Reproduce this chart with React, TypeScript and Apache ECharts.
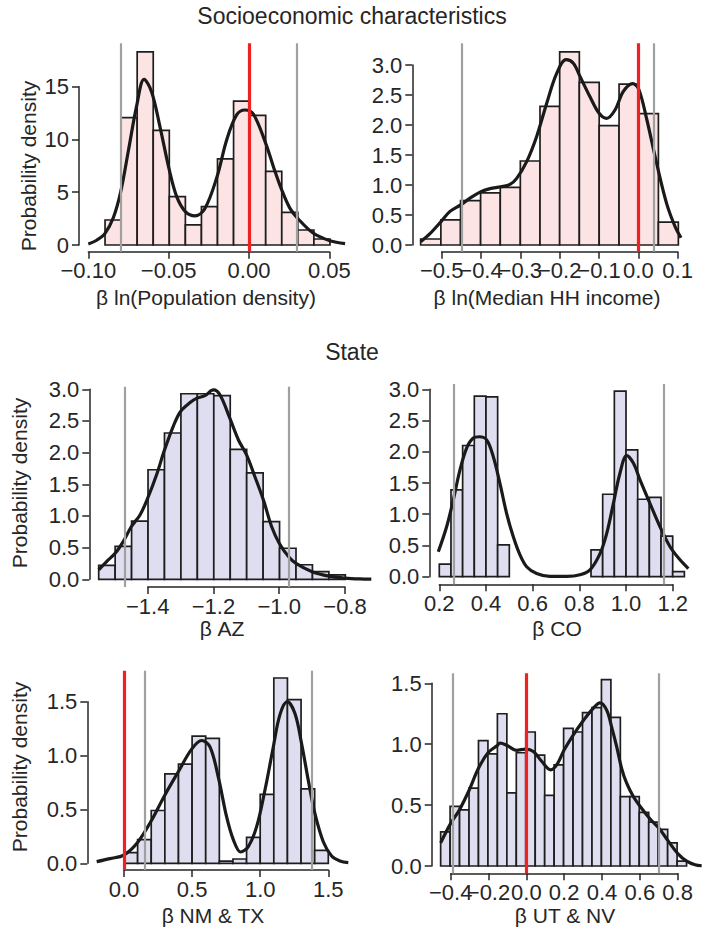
import React, { useEffect, useRef } from "react";
import * as echarts from "echarts";

// ---------------- data ----------------
// Panel 1: β ln(Population density)
const p1Edges = [-0.0896, -0.0796, -0.0696, -0.0596, -0.0496, -0.0396, -0.0296, -0.0196, -0.0096, 0.0004, 0.0104, 0.0204, 0.0304, 0.0404, 0.0504];
const p1Heights = [2.37, 12.06, 18.3, 10.86, 4.58, 1.9, 3.63, 8.15, 13.64, 12.28, 6.98, 3.09, 1.42, 0.57];
const p1KdeX = [-0.1, -0.0948, -0.0896, -0.0844, -0.0799, -0.0751, -0.0699, -0.0653, -0.0606, -0.0554, -0.0496, -0.045, -0.0396, -0.0336, -0.0274, -0.0199, -0.0139, -0.0077, -0.0025, 0.0027, 0.0104, 0.0152, 0.0204, 0.0255, 0.0303, 0.0401, 0.0504, 0.0598];
const p1KdeY = [0.1, 0.45, 1.1, 2.6, 5.0, 8.9, 13.2, 15.7, 14.5, 11.2, 7.11, 4.58, 3.16, 2.75, 3.47, 6.47, 9.95, 12.32, 12.79, 12.41, 9.63, 7.42, 5.21, 3.47, 2.53, 1.11, 0.41, 0.13];
const p1Gray = [-0.08, 0.0272];
const p1Red = [0];
const p1XTicks = [-0.1, -0.05, 0.0, 0.05];
const p1YTicks = [0, 5, 10, 15];

// Panel 2: β ln(Median HH income)
const p2Edges = [-0.5534, -0.502, -0.452, -0.401, -0.351, -0.3, -0.25, -0.2, -0.15, -0.0995, -0.049, 0.001, 0.051, 0.1017];
const p2Heights = [0.1, 0.42, 0.74, 0.87, 0.96, 1.4, 2.31, 3.22, 2.71, 1.99, 2.68, 2.19, 0.38];
const p2KdeX = [-0.5534, -0.5297, -0.5017, -0.4788, -0.4517, -0.428, -0.4, -0.3771, -0.35, -0.3263, -0.3093, -0.2839, -0.2585, -0.2331, -0.2076, -0.1839, -0.1653, -0.1483, -0.1229, -0.0992, -0.0805, -0.0593, -0.0381, -0.0144, 0.0008, 0.0212, 0.0466, 0.072, 0.0932, 0.1085];
const p2KdeY = [0.056, 0.19, 0.39, 0.56, 0.67, 0.78, 0.89, 0.94, 0.97, 1.01, 1.11, 1.39, 1.81, 2.36, 2.86, 3.09, 3.03, 2.81, 2.47, 2.19, 2.11, 2.25, 2.56, 2.69, 2.6, 2.1, 1.36, 0.69, 0.31, 0.12];
const p2Gray = [-0.4517, 0.0424];
const p2Red = [0];
const p2XTicks = [-0.5, -0.4, -0.3, -0.2, -0.1, 0.0, 0.1];
const p2YTicks = [0, 0.5, 1.0, 1.5, 2.0, 2.5, 3.0];

// Panel 3: β AZ
const p3Edges = [-1.549, -1.499, -1.449, -1.399, -1.349, -1.299, -1.249, -1.199, -1.149, -1.099, -1.049, -0.999, -0.949, -0.899, -0.849, -0.799];
const p3Heights = [0.22, 0.52, 0.92, 1.73, 2.31, 2.93, 2.93, 2.9, 2.05, 1.68, 0.91, 0.49, 0.23, 0.12, 0.07];
const p3KdeX = [-1.549, -1.525, -1.499, -1.474, -1.45, -1.423, -1.4, -1.373, -1.349, -1.322, -1.3, -1.271, -1.25, -1.226, -1.2, -1.18, -1.15, -1.124, -1.099, -1.074, -1.048, -1.023, -1.0, -0.972, -0.949, -0.9, -0.849, -0.8, -0.755, -0.72];
const p3KdeY = [0.15, 0.28, 0.41, 0.6, 0.83, 1.02, 1.28, 1.65, 2.04, 2.42, 2.65, 2.79, 2.86, 2.9, 2.99, 2.91, 2.54, 2.2, 1.96, 1.62, 1.25, 0.83, 0.57, 0.36, 0.25, 0.12, 0.05, 0.02, 0.006, 0.002];
const p3Gray = [-1.467, -0.966];
const p3Red: number[] = [];
const p3XTicks = [-1.4, -1.2, -1.0, -0.8];
const p3YTicks = [0, 0.5, 1.0, 1.5, 2.0, 2.5, 3.0];

// Panel 4: β CO
const p4Edges = [0.2, 0.25, 0.3, 0.35, 0.4, 0.45, 0.5, 0.55, 0.6, 0.65, 0.7, 0.75, 0.8, 0.85, 0.9, 0.95, 1.0, 1.05, 1.1, 1.15, 1.2, 1.25];
const p4Heights = [0.2, 1.39, 2.1, 2.89, 2.88, 0.51, 0, 0, 0, 0, 0, 0, 0, 0.43, 1.32, 2.97, 2.03, 1.24, 1.27, 0.65, 0.08];
const p4KdeX = [0.1957, 0.2314, 0.26, 0.2886, 0.3171, 0.3457, 0.3714, 0.4029, 0.4314, 0.46, 0.4886, 0.5171, 0.5457, 0.5743, 0.6171, 0.6743, 0.7457, 0.8029, 0.8457, 0.8886, 0.9171, 0.9457, 0.9743, 1.0029, 1.0314, 1.06, 1.1029, 1.1457, 1.1886, 1.2314, 1.2671];
const p4KdeY = [0.4, 0.8, 1.23, 1.71, 2.06, 2.22, 2.24, 2.19, 1.92, 1.49, 1.01, 0.64, 0.35, 0.16, 0.05, 0.004, 0.004, 0.03, 0.11, 0.37, 0.69, 1.17, 1.66, 1.94, 1.82, 1.55, 1.17, 0.8, 0.48, 0.27, 0.13];
const p4Gray = [0.264, 1.16];
const p4Red: number[] = [];
const p4XTicks = [0.2, 0.4, 0.6, 0.8, 1.0, 1.2];
const p4YTicks = [0, 0.5, 1.0, 1.5, 2.0, 2.5, 3.0];

// Panel 5: β NM & TX
const p5Edges = [0.0, 0.1, 0.2, 0.3, 0.4, 0.5, 0.6, 0.7, 0.8, 0.9, 1.0, 1.1, 1.2, 1.3, 1.4, 1.5];
const p5Heights = [0.1, 0.22, 0.49, 0.83, 0.92, 1.18, 1.16, 0.02, 0.04, 0.24, 0.64, 1.72, 1.52, 0.69, 0.12];
const p5KdeX = [-0.2006, -0.1028, 0.0, 0.0979, 0.1982, 0.2985, 0.3988, 0.4967, 0.5701, 0.6313, 0.6924, 0.7536, 0.8025, 0.8564, 0.9126, 0.9738, 1.035, 1.0962, 1.1451, 1.1989, 1.2552, 1.3041, 1.3531, 1.402, 1.4632, 1.5244, 1.5855, 1.6467];
const p5KdeY = [0.015, 0.043, 0.077, 0.19, 0.39, 0.63, 0.85, 1.06, 1.14, 1.08, 0.8, 0.43, 0.22, 0.105, 0.155, 0.34, 0.68, 1.08, 1.38, 1.5, 1.39, 1.11, 0.77, 0.46, 0.2, 0.068, 0.022, 0.006];
const p5Gray = [0.154, 1.382];
const p5Red = [0];
const p5XTicks = [0.0, 0.5, 1.0, 1.5];
const p5YTicks = [0, 0.5, 1.0, 1.5];

// Panel 6: β UT & NV
const p6Edges = [-0.453, -0.403, -0.353, -0.303, -0.253, -0.203, -0.153, -0.103, -0.053, -0.003, 0.047, 0.097, 0.147, 0.197, 0.247, 0.297, 0.347, 0.397, 0.447, 0.497, 0.547, 0.597, 0.647, 0.697, 0.747, 0.797, 0.847];
const p6Heights = [0.28, 0.49, 0.46, 0.64, 1.03, 0.92, 1.25, 0.6, 0.93, 1.1, 0.91, 0.58, 0.83, 1.13, 1.1, 1.26, 1.3, 1.53, 1.22, 0.57, 0.57, 0.44, 0.36, 0.3, 0.19, 0.04];
const p6KdeX = [-0.4529, -0.4035, -0.3542, -0.3031, -0.2537, -0.2026, -0.1533, -0.1392, -0.1022, -0.0529, -0.0018, 0.037, 0.0811, 0.1286, 0.1604, 0.1991, 0.2502, 0.2996, 0.3507, 0.3894, 0.4247, 0.4511, 0.4775, 0.504, 0.5304, 0.5656, 0.6009, 0.652, 0.7013, 0.7524, 0.8018, 0.8476, 0.8916, 0.9269];
const p6KdeY = [0.19, 0.34, 0.46, 0.62, 0.8, 0.93, 0.99, 1.01, 0.99, 0.95, 0.96, 0.94, 0.86, 0.79, 0.83, 0.95, 1.08, 1.19, 1.29, 1.34, 1.28, 1.14, 0.98, 0.8, 0.68, 0.57, 0.49, 0.39, 0.31, 0.2, 0.1, 0.04, 0.01, 0.002];
const p6Gray = [-0.386, 0.701];
const p6Red = [0];
const p6XTicks = [-0.4, -0.2, 0.0, 0.2, 0.4, 0.6, 0.8];
const p6YTicks = [0, 0.5, 1.0, 1.5];

const xLabels = ["β ln(Population density)", "β ln(Median HH income)", "β AZ", "β CO", "β NM & TX", "β UT & NV"];
const yLabel = "Probability density";
const titles = ["Socioeconomic characteristics", "State"];

// ---------------- layout & style ----------------
const FONT = '"Liberation Sans", Arial, Helvetica, sans-serif';
const TXT = "#262626";
const PINK = "#fce4e4";
const LAV = "#dedef0";

type Box = { left: number; right: number; top: number; bottom: number; xa: [number, number]; xb: [number, number]; y0: number; yr: [number, number] };

const boxes: Box[] = [
  { left: 79, right: 354, top: 43.3, bottom: 251.7, xa: [-0.1, 88.33], xb: [0.05, 329.33], y0: 245, yr: [15, 86.67] },
  { left: 412.3, right: 690, top: 43.3, bottom: 251.7, xa: [-0.5, 441.67], xb: [0.1, 677.67], y0: 245, yr: [3, 65] },
  { left: 89.3, right: 372, top: 386.7, bottom: 587, xa: [-1.4, 147.7], xb: [-0.8, 345], y0: 579.3, yr: [3, 389.3] },
  { left: 429.3, right: 695, top: 384, bottom: 584.3, xa: [0.2, 439.3], xb: [1.2, 672.7], y0: 576.7, yr: [3, 389.3] },
  { left: 87.3, right: 360, top: 670.7, bottom: 870, xa: [0, 124], xb: [1.5, 328.3], y0: 863.3, yr: [1.5, 701.7] },
  { left: 431.7, right: 703, top: 673.3, bottom: 873.3, xa: [-0.4, 450.67], xb: [0.8, 677.67], y0: 866, yr: [1.5, 683.3] },
];

const xLabelPos: [number, number][] = [[206, 297], [547, 297], [222, 628], [557, 628], [213, 915], [565, 915]];
const yLabelPos: [number, number][] = [[28, 166], [19, 483], [19, 767]];
const titlePos: [number, number][] = [[352, 16], [352, 352]];

const panels = [
  { edges: p1Edges, heights: p1Heights, kx: p1KdeX, ky: p1KdeY, gray: p1Gray, red: p1Red, xt: p1XTicks, yt: p1YTicks, xd: 2, yd: 0, fill: PINK },
  { edges: p2Edges, heights: p2Heights, kx: p2KdeX, ky: p2KdeY, gray: p2Gray, red: p2Red, xt: p2XTicks, yt: p2YTicks, xd: 1, yd: 1, fill: PINK },
  { edges: p3Edges, heights: p3Heights, kx: p3KdeX, ky: p3KdeY, gray: p3Gray, red: p3Red, xt: p3XTicks, yt: p3YTicks, xd: 1, yd: 1, fill: LAV },
  { edges: p4Edges, heights: p4Heights, kx: p4KdeX, ky: p4KdeY, gray: p4Gray, red: p4Red, xt: p4XTicks, yt: p4YTicks, xd: 1, yd: 1, fill: LAV },
  { edges: p5Edges, heights: p5Heights, kx: p5KdeX, ky: p5KdeY, gray: p5Gray, red: p5Red, xt: p5XTicks, yt: p5YTicks, xd: 1, yd: 1, fill: LAV },
  { edges: p6Edges, heights: p6Heights, kx: p6KdeX, ky: p6KdeY, gray: p6Gray, red: p6Red, xt: p6XTicks, yt: p6YTicks, xd: 1, yd: 1, fill: LAV },
];

const TICK_FS = 22;
const LABEL_FS = 21;
const TITLE_FS = 23;

function fmt(v: number, d: number) {
  const s = Math.abs(v) < 1e-9 ? (0).toFixed(d) : v.toFixed(d);
  return s.replace("-", "\u2212");
}

function buildOption() {
  const grids: any[] = [];
  const xAxes: any[] = [];
  const yAxes: any[] = [];
  const series: any[] = [];
  const axisLine = { show: true, onZero: false, lineStyle: { color: TXT, width: 1.5 } };
  const axisTick = (vals: number[]) => ({ show: true, inside: false, length: 7, lineStyle: { color: TXT, width: 1.5 }, customValues: vals });
  const labelStyle = { fontSize: TICK_FS, fontFamily: FONT, color: TXT, showMinLabel: true, showMaxLabel: true, hideOverlap: false };

  panels.forEach((p, i) => {
    const b = boxes[i];
    const kx = (b.xb[1] - b.xa[1]) / (b.xb[0] - b.xa[0]);
    const xmin = b.xa[0] - (b.xa[1] - b.left) / kx;
    const xmax = b.xa[0] + (b.right - b.xa[1]) / kx;
    const ky = (b.y0 - b.yr[1]) / b.yr[0];
    const ymin = -(b.bottom - b.y0) / ky;
    const ymax = (b.y0 - b.top) / ky;
    const px = (v: number) => b.xa[1] + (v - b.xa[0]) * kx;
    const py = (v: number) => b.y0 - v * ky;

    // main plotting grid
    const g = grids.length;
    const xi = xAxes.length;
    const yi = yAxes.length;
    grids.push({ left: b.left, top: b.top, width: b.right - b.left, height: b.bottom - b.top, containLabel: false, outerBoundsMode: "none" });
    xAxes.push({ type: "value", gridIndex: g, min: xmin, max: xmax, show: false, splitLine: { show: false } });
    yAxes.push({ type: "value", gridIndex: g, min: ymin, max: ymax, show: false, splitLine: { show: false } });

    // trimmed x spine (labels split over two overlaid axes so none is dropped)
    const xf = p.xt[0];
    const xl = p.xt[p.xt.length - 1];
    const even = p.xt.filter((_v, k) => k % 2 === 0);
    const odd = p.xt.filter((_v, k) => k % 2 === 1);
    grids.push({ left: px(xf), top: b.bottom - 10, width: px(xl) - px(xf), height: 10, containLabel: false, outerBoundsMode: "none" });
    xAxes.push({
      type: "value", gridIndex: g + 1, min: xf, max: xl, position: "bottom",
      axisLine, axisTick: axisTick(p.xt), splitLine: { show: false },
      axisLabel: { ...labelStyle, customValues: even, margin: 8, formatter: (v: number) => fmt(v, p.xd) },
    });
    xAxes.push({
      type: "value", gridIndex: g + 1, min: xf, max: xl, position: "bottom",
      axisLine: { show: false, onZero: false }, axisTick: { show: false }, splitLine: { show: false },
      axisLabel: { ...labelStyle, customValues: odd, margin: 8, formatter: (v: number) => fmt(v, p.xd) },
    });
    yAxes.push({ type: "value", gridIndex: g + 1, min: 0, max: 1, show: false, splitLine: { show: false } });

    // trimmed y spine
    const yl = p.yt[p.yt.length - 1];
    grids.push({ left: b.left, top: py(yl), width: 10, height: py(0) - py(yl), containLabel: false, outerBoundsMode: "none" });
    xAxes.push({ type: "value", gridIndex: g + 2, min: 0, max: 1, show: false, splitLine: { show: false } });
    yAxes.push({
      type: "value", gridIndex: g + 2, min: 0, max: yl, position: "left",
      axisLine, axisTick: axisTick(p.yt), splitLine: { show: false },
      axisLabel: { ...labelStyle, customValues: p.yt, margin: 10, formatter: (v: number) => fmt(v, p.yd) },
    });

    // histogram bars
    const barData = p.heights.map((h, k) => [p.edges[k], p.edges[k + 1], h]);
    const fill = p.fill;
    series.push({
      type: "custom", xAxisIndex: xi, yAxisIndex: yi, data: barData, silent: true, clip: false, z: 2,
      encode: { x: [0, 1], y: 2 },
      renderItem: (_params: any, api: any) => {
        const h = api.value(2);
        if (!h) return { type: "group", children: [] };
        const a = api.coord([api.value(0), 0]);
        const c = api.coord([api.value(1), h]);
        return {
          type: "rect",
          shape: { x: a[0], y: c[1], width: c[0] - a[0], height: a[1] - c[1] },
          style: { fill, stroke: "#1e1e1e", lineWidth: 1.7 },
        };
      },
    });

    // KDE curve + reference lines
    const marks: any[] = [];
    p.gray.forEach((v) => marks.push({ xAxis: v, lineStyle: { color: "#a0a0a0", width: 2.2, type: "solid" } }));
    p.red.forEach((v) => marks.push({ xAxis: v, lineStyle: { color: "#ee2222", width: 3.2, type: "solid" } }));
    series.push({
      type: "line", xAxisIndex: xi, yAxisIndex: yi, z: 3, silent: true,
      data: p.kx.map((x, k) => [x, p.ky[k]]),
      smooth: 0.35, showSymbol: false, symbol: "none",
      lineStyle: { color: "#1a1a1a", width: 3.2 },
      markLine: { silent: true, symbol: ["none", "none"], label: { show: false }, animation: false, data: marks },
    });
  });

  const textEl = (text: string, x: number, y: number, fs: number, rot = 0) => ({
    type: "text", x, y, rotation: rot, z: 100,
    style: { text, fontSize: fs, fontFamily: FONT, fill: TXT, align: "center", verticalAlign: "middle", textAlign: "center", textVerticalAlign: "middle" },
  });
  const graphic: any[] = [];
  titles.forEach((t, i) => graphic.push(textEl(t, titlePos[i][0], titlePos[i][1], TITLE_FS)));
  xLabels.forEach((t, i) => graphic.push(textEl(t, xLabelPos[i][0], xLabelPos[i][1], LABEL_FS)));
  yLabelPos.forEach((pos) => graphic.push(textEl(yLabel, pos[0], pos[1], LABEL_FS, Math.PI / 2)));

  return {
    animation: false,
    backgroundColor: "#ffffff",
    textStyle: { fontFamily: FONT },
    grid: grids,
    xAxis: xAxes,
    yAxis: yAxes,
    series,
    graphic,
  };
}

export default function App() {
  const ref = useRef<HTMLDivElement>(null);
  useEffect(() => {
    document.body.style.margin = "0";
    if (!ref.current) return;
    const chart = echarts.init(ref.current, undefined, { renderer: "svg" });
    chart.setOption(buildOption() as any);
    return () => chart.dispose();
  }, []);
  return <div ref={ref} style={{ width: 703, height: 930 }} />;
}
